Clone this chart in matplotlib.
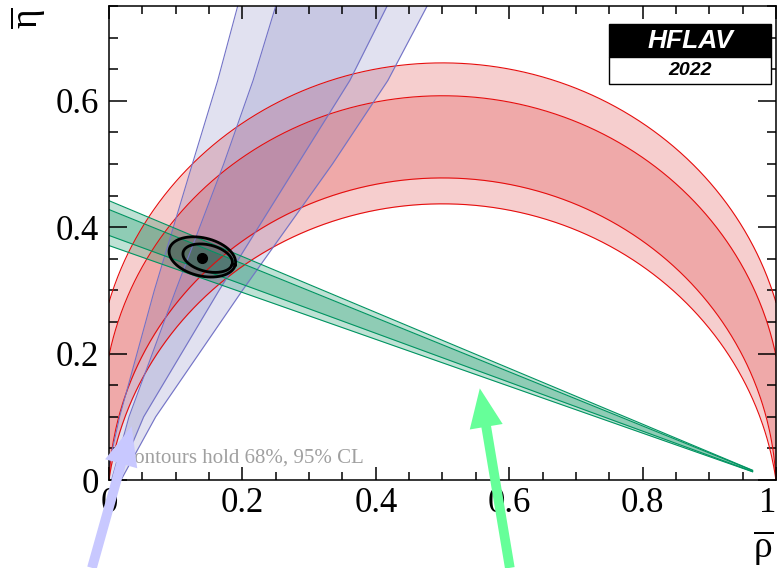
import numpy as np
import matplotlib
matplotlib.use("Agg")
import matplotlib.pyplot as plt
from matplotlib.patches import Rectangle

plt.rcParams['font.family'] = ['Liberation Serif', 'DejaVu Serif']
plt.rcParams['mathtext.fontset'] = 'custom'
plt.rcParams['mathtext.rm'] = 'Liberation Serif'
plt.rcParams['mathtext.it'] = 'Liberation Serif:italic'

# ---------- data ----------
# alpha: circular arcs through (0,0) and (1,0), given by their peak height at rho=0.5
alpha_peaks_95 = [0.660, 0.437]
alpha_peaks_68 = [0.608, 0.478]

# sin2beta: straight lines through (1,0), given by their eta value at rho=0
beta_icpt_95 = [0.442, 0.371]
beta_icpt_68 = [0.428, 0.387]
beta_rho_end = 0.965

# gamma: band edges (rho) sampled at these eta values
gamma_eta = [0.0, 0.1, 0.3, 0.5, 0.632, 0.75]
gamma_95_left = [-0.005, 0.016, 0.068, 0.125, 0.163, 0.193]
gamma_95_right = [0.018, 0.070, 0.200, 0.335, 0.418, 0.477]
gamma_68_left = [0.004, 0.030, 0.100, 0.172, 0.216, 0.250]
gamma_68_right = [0.012, 0.052, 0.165, 0.283, 0.361, 0.417]

# global fit contours: centre, semi-axes, tilt (deg)
fit_best = (0.140, 0.352)
fit_95 = (0.140, 0.353, 0.051, 0.030, -15)
fit_68 = (0.148, 0.351, 0.038, 0.021, -15)

xticks = [0, 0.2, 0.4, 0.6, 0.8, 1]
xticklabels = ['0', '0.2', '0.4', '0.6', '0.8', '1']
yticks = [0, 0.2, 0.4, 0.6]
yticklabels = ['0', '0.2', '0.4', '0.6']


def alpha_arc(x, h):
    c = (h * h - 0.25) / (2 * h)
    r = h - c
    return c + np.sqrt(np.clip(r * r - (x - 0.5) ** 2, 0, None))


def ellipse(cx, cy, a, b, ang, n=200):
    t = np.linspace(0, 2 * np.pi, n)
    th = np.radians(ang)
    x = cx + a * np.cos(t) * np.cos(th) - b * np.sin(t) * np.sin(th)
    y = cy + a * np.cos(t) * np.sin(th) + b * np.sin(t) * np.cos(th)
    return x, y


fig = plt.figure(figsize=(7.8, 5.68), dpi=100)
ax = fig.add_axes([0.1397, 0.1549, 0.8551, 0.8345])

red_fill = (0.86, 0.18, 0.18)
red_line = (0.9, 0.05, 0.05)
blue_fill = (0.35, 0.35, 0.68)
blue_line = (0.45, 0.45, 0.78)
green_fill = (0.0, 0.55, 0.35)
green_line = (0.0, 0.58, 0.38)

# alpha (red)
xs = np.linspace(0, 1, 600)
for peaks in (alpha_peaks_95, alpha_peaks_68):
    ax.fill_between(xs, alpha_arc(xs, peaks[1]), alpha_arc(xs, peaks[0]),
                    color=red_fill, alpha=0.23, lw=0)
for h in alpha_peaks_95 + alpha_peaks_68:
    ax.plot(xs, alpha_arc(xs, h), color=red_line, lw=0.8)

# gamma (blue)
for left, right in ((gamma_95_left, gamma_95_right), (gamma_68_left, gamma_68_right)):
    ax.fill_betweenx(gamma_eta, left, right, color=blue_fill, alpha=0.18, lw=0)
    ax.plot(left, gamma_eta, color=blue_line, lw=0.8)
    ax.plot(right, gamma_eta, color=blue_line, lw=0.8)

# sin2beta (green)
xb = np.linspace(0, beta_rho_end, 300)
for icpt in (beta_icpt_95, beta_icpt_68):
    ax.fill_between(xb, icpt[1] * (1 - xb), icpt[0] * (1 - xb),
                    color=green_fill, alpha=0.25, lw=0)
    for b in icpt:
        ax.plot(xb, b * (1 - xb), color=green_line, lw=0.8)

# fit contours
ex, ey = ellipse(*fit_95)
ax.fill(ex, ey, color='black', alpha=0.22, lw=0)
ax.plot(ex, ey, color='black', lw=2)
ex, ey = ellipse(*fit_68)
ax.plot(ex, ey, color='black', lw=2)
ax.plot(*fit_best, 'o', color='black', ms=7)

ax.text(0.024, 0.028, 'contours hold 68%, 95% CL', color='#a0a0a0',
        fontsize=15, va='baseline')

ax.set_xlim(0, 1)
ax.set_ylim(0, 0.75)
ax.set_xticks(xticks)
ax.set_xticklabels(xticklabels)
ax.set_yticks(yticks)
ax.set_yticklabels(yticklabels)
ax.set_xticks(np.arange(0, 1.001, 0.05), minor=True)
ax.set_yticks(np.arange(0, 0.751, 0.05), minor=True)
ax.tick_params(which='both', direction='in', top=True, right=True,
               labelsize=25, width=1.1)
ax.tick_params(axis='x', which='major', length=9.5, pad=5)
ax.tick_params(axis='x', which='minor', length=6)
ax.tick_params(axis='y', which='major', length=13, pad=7)
ax.tick_params(axis='y', which='minor', length=6.5)
ax.get_xticklabels()[-1].set_horizontalalignment('right')
for s in ax.spines.values():
    s.set_linewidth(1.1)

fig.text(0.036, 0.968, r'$\overline{\mathrm{\eta}}$', rotation=90,
         fontsize=27, ha='center', va='center')
fig.text(0.979, 0.035, r'$\overline{\mathrm{\rho}}$', fontsize=27,
         ha='center', va='center')

# HFLAV logo
ax.add_patch(Rectangle((0.750, 0.892), 0.243, 0.070, transform=ax.transAxes,
                       facecolor='black', edgecolor='black', lw=1, clip_on=False, zorder=5))
ax.add_patch(Rectangle((0.750, 0.835), 0.243, 0.057, transform=ax.transAxes,
                       facecolor='white', edgecolor='black', lw=1, clip_on=False, zorder=5))
ax.text(0.8715, 0.927, 'HFLAV', transform=ax.transAxes, color='white',
        fontsize=19, fontweight='bold', fontstyle='italic',
        family=['Liberation Sans'], ha='center', va='center', zorder=6)
ax.text(0.8715, 0.8635, '2022', transform=ax.transAxes, color='black',
        fontsize=14, fontweight='bold', fontstyle='italic',
        family=['Liberation Sans'], ha='center', va='center', zorder=6)

# arrows
ax.annotate('', xy=(0.034, 0.085), xytext=(-0.0255, -0.139),
            annotation_clip=False,
            arrowprops=dict(facecolor='#c8c8ff', edgecolor='none', width=7,
                            headwidth=24, headlength=28, shrink=0))
ax.annotate('', xy=(0.556, 0.145), xytext=(0.601, -0.139),
            annotation_clip=False,
            arrowprops=dict(facecolor='#66ff99', edgecolor='none', width=7,
                            headwidth=24, headlength=28, shrink=0))

fig.savefig('out.png', dpi=100)
